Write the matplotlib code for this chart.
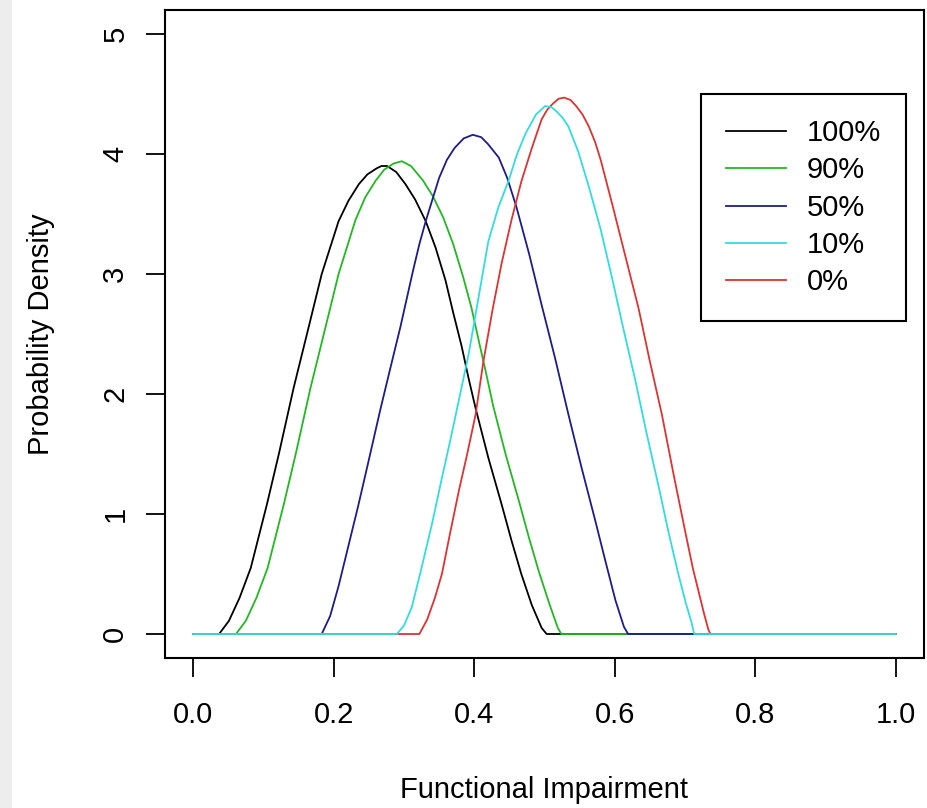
import matplotlib
matplotlib.use("Agg")
import matplotlib.pyplot as plt
from matplotlib.patches import Rectangle

plt.rcParams['font.family'] = ['Liberation Sans', 'DejaVu Sans']

# density curves (x = functional impairment, y = density)
x_100 = [0.0, 0.037, 0.051, 0.066, 0.082, 0.105, 0.122, 0.143, 0.162, 0.183, 0.207, 0.221,
         0.236, 0.248, 0.261, 0.268, 0.276, 0.289, 0.302, 0.316, 0.331, 0.345, 0.359, 0.370,
         0.382, 0.392, 0.402, 0.420, 0.439, 0.453, 0.467, 0.482, 0.496, 0.503, 1.0]
y_100 = [0, 0, 0.11, 0.3, 0.55, 1.08, 1.5, 2.05, 2.5, 3.0, 3.44, 3.61,
         3.75, 3.83, 3.88, 3.9, 3.9, 3.85, 3.75, 3.62, 3.44, 3.22, 2.95, 2.68,
         2.4, 2.13, 1.88, 1.47, 1.08, 0.78, 0.5, 0.24, 0.05, 0, 0]

x_90 = [0.0, 0.061, 0.075, 0.090, 0.106, 0.129, 0.146, 0.167, 0.186, 0.207, 0.231, 0.245,
        0.260, 0.272, 0.285, 0.297, 0.310, 0.327, 0.341, 0.356, 0.370, 0.384, 0.396, 0.407,
        0.417, 0.427, 0.445, 0.464, 0.478, 0.492, 0.507, 0.519, 0.524, 1.0]
y_90 = [0, 0, 0.11, 0.3, 0.55, 1.08, 1.5, 2.05, 2.5, 3.0, 3.45, 3.64,
        3.78, 3.87, 3.92, 3.94, 3.9, 3.78, 3.65, 3.47, 3.25, 2.98, 2.72, 2.43,
        2.17, 1.9, 1.49, 1.1, 0.8, 0.52, 0.25, 0.05, 0, 0]

x_50 = [0.0, 0.183, 0.195, 0.207, 0.235, 0.250, 0.266, 0.280, 0.295, 0.313, 0.322, 0.331,
        0.341, 0.350, 0.361, 0.372, 0.385, 0.398, 0.410, 0.420, 0.435, 0.447, 0.460, 0.478,
        0.496, 0.515, 0.534, 0.553, 0.572, 0.587, 0.601, 0.613, 0.619, 1.0]
y_50 = [0, 0, 0.15, 0.4, 1.07, 1.45, 1.86, 2.2, 2.56, 3.03, 3.25, 3.44,
        3.63, 3.8, 3.95, 4.05, 4.13, 4.16, 4.14, 4.08, 3.97, 3.8, 3.56, 3.17,
        2.74, 2.3, 1.83, 1.38, 0.95, 0.6, 0.28, 0.06, 0, 0]

x_10 = [0.0, 0.290, 0.300, 0.311, 0.325, 0.340, 0.354, 0.368, 0.380, 0.392, 0.406, 0.420,
        0.434, 0.449, 0.461, 0.473, 0.488, 0.501, 0.510, 0.518, 0.526, 0.534, 0.548, 0.563,
        0.580, 0.596, 0.612, 0.629, 0.645, 0.662, 0.676, 0.690, 0.701, 0.709, 0.713, 1.0]
y_10 = [0, 0, 0.07, 0.22, 0.55, 0.92, 1.3, 1.67, 2.0, 2.33, 2.8, 3.27,
        3.55, 3.78, 4.0, 4.17, 4.33, 4.4, 4.39, 4.35, 4.3, 4.23, 4.02, 3.73,
        3.37, 2.97, 2.55, 2.12, 1.68, 1.24, 0.86, 0.51, 0.26, 0.1, 0, 0]

x_0 = [0.0, 0.322, 0.333, 0.344, 0.354, 0.366, 0.378, 0.390, 0.402, 0.413, 0.426, 0.439,
       0.453, 0.467, 0.482, 0.496, 0.504, 0.512, 0.520, 0.528, 0.537, 0.545, 0.554, 0.563,
       0.572, 0.580, 0.596, 0.615, 0.634, 0.650, 0.667, 0.684, 0.700, 0.711, 0.719, 0.727,
       0.733, 0.736, 1.0]
y_0 = [0, 0, 0.12, 0.3, 0.5, 0.85, 1.19, 1.5, 1.83, 2.27, 2.7, 3.09,
       3.45, 3.77, 4.05, 4.29, 4.37, 4.42, 4.46, 4.47, 4.45, 4.4, 4.33, 4.23,
       4.1, 3.95, 3.59, 3.15, 2.71, 2.27, 1.83, 1.32, 0.86, 0.55, 0.36, 0.17,
       0.04, 0, 0]

labels = ["100%", "90%", "50%", "10%", "0%"]
x_ticks = [0.0, 0.2, 0.4, 0.6, 0.8, 1.0]
x_tick_labels = ["0.0", "0.2", "0.4", "0.6", "0.8", "1.0"]
y_ticks = [0, 1, 2, 3, 4, 5]

fig = plt.figure(figsize=(9.28, 8.08), dpi=100)
fig.patches.append(Rectangle((0, 0), 12 / 928, 1, transform=fig.transFigure,
                             facecolor='#ededed', edgecolor='none'))
ax = fig.add_axes([165 / 928, 150 / 808, 759 / 928, 648 / 808])

lw = 1.3
l100, = ax.plot(x_100, y_100, color='black', lw=lw)
l90, = ax.plot(x_90, y_90, color='#22b822', lw=lw)
l50, = ax.plot(x_50, y_50, color='#1c1c8c', lw=lw)
l0, = ax.plot(x_0, y_0, color='#dd3333', lw=lw)
l10, = ax.plot(x_10, y_10, color='#33dddd', lw=lw)

ax.set_xlim(-0.04, 1.04)
ax.set_ylim(-0.2, 5.2)
ax.set_xticks(x_ticks)
ax.set_xticklabels(x_tick_labels)
ax.set_yticks(y_ticks)
ax.set_yticklabels([str(t) for t in y_ticks], rotation=90, va='center')

for s in ax.spines.values():
    s.set_linewidth(1.5)
ax.tick_params(axis='both', direction='out', length=13.7, width=1.3, labelsize=21)
ax.tick_params(axis='x', pad=17)
ax.tick_params(axis='y', pad=12)

ax.set_xlabel("Functional Impairment", fontsize=21, va='center')
ax.xaxis.set_label_coords(0.5, -0.204)
ax.set_ylabel("Probability Density", fontsize=21, va='center')
ax.yaxis.set_label_coords(-0.163, 0.5)

leg = ax.legend([l100, l90, l50, l10, l0], labels, loc='upper left',
                bbox_to_anchor=(701 / 928, 1 - 94 / 808), bbox_transform=fig.transFigure,
                borderaxespad=0, fontsize=21, fancybox=False, framealpha=1,
                edgecolor='black', handlelength=2.05, handletextpad=0.72,
                borderpad=0.86, labelspacing=0.32)
leg.get_frame().set_linewidth(1.5)

fig.savefig("out.png", dpi=100)
